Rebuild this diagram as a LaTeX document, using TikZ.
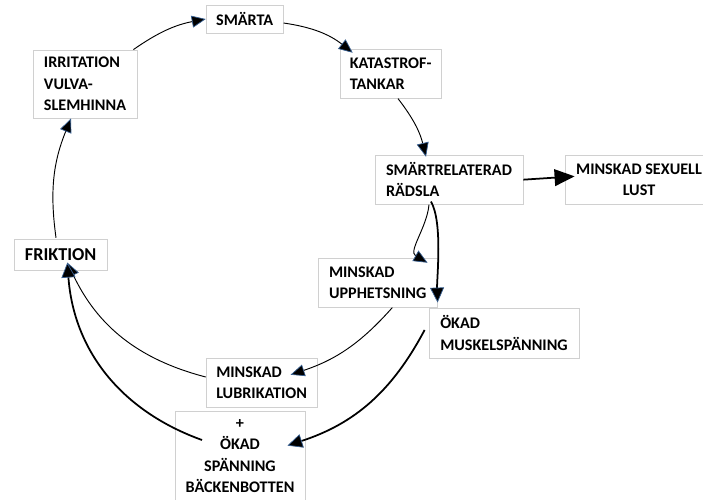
\documentclass[tikz,border=0pt]{standalone}
\usepackage{fontspec}
\setmainfont{Carlito}
\usetikzlibrary{arrows.meta}

\definecolor{boxline}{RGB}{208,208,208}
\definecolor{tipedge}{RGB}{55,95,145}

\begin{document}
\begin{tikzpicture}[every node/.style={align=left, font=\bfseries\fontsize{13.8}{18.3}\selectfont},
    box/.style={draw=boxline, line width=0.7pt, inner sep=0pt},
    link/.style={line width=0.8pt, -{Triangle[length=0.42cm, width=0.36cm, fill=black, color=tipedge, line width=0.6pt]}},
    heavy/.style={line width=1.5pt, -{Triangle[length=0.45cm, width=0.42cm, fill=black, color=tipedge, line width=0.6pt]}}]
    \useasboundingbox (0,0) rectangle (21.09,-14.97);
    % cycle boxes
    \node[box, minimum width=2.31cm, minimum height=0.84cm] (smarta) at (7.34,-0.57) {SMÄRTA};
    \node[box, minimum width=3.12cm, minimum height=2.04cm] (irr) at (2.55,-2.52) {IRRITATION\\VULVA-\\SLEMHINNA};
    \node[box, minimum width=3.03cm, minimum height=1.47cm] (kat) at (11.72,-2.21) {KATASTROF-\\TANKAR};
    \node[box, minimum width=4.44cm, minimum height=1.47cm] (radsla) at (13.47,-5.39) {SMÄRTRELATERAD\\RÄDSLA};
    \node[box, minimum width=4.44cm, minimum height=1.47cm, align=center] (lust) at (19.17,-5.39) {MINSKAD SEXUELL\\LUST};
    \node[box, minimum width=2.79cm, minimum height=0.93cm, font=\bfseries\fontsize{15.5}{18.3}\selectfont] (frik) at (1.82,-7.64) {FRIKTION};
    \node[box, minimum width=3.57cm, minimum height=1.47cm] (upph) at (11.33,-8.48) {MINSKAD\\UPPHETSNING};
    \node[box, minimum width=4.5cm, minimum height=1.5cm] (muskel) at (15.12,-9.99) {ÖKAD\\MUSKELSPÄNNING};
    \node[box, minimum width=3.33cm, minimum height=1.47cm] (lubr) at (7.85,-11.48) {MINSKAD\\LUBRIKATION};
    \node[box, minimum width=3.9cm, minimum height=2.7cm, align=center] (backen) at (7.2,-13.68)
        {+\\ÖKAD\\SPÄNNING\\BÄCKENBOTTEN};
    % outer circle
    \draw[link] ([xshift=-0.12cm]irr.north east) to[bend left=12] (smarta.west);
    \draw[link] ([yshift=-0.12cm]smarta.east) to[bend left=15] ([xshift=0.39cm,yshift=-0.12cm]kat.north west);
    \draw[link] ([xshift=0.22cm]kat.south) to[bend left=12] ([xshift=-0.69cm,yshift=-0.06cm]radsla.north);
    \draw[heavy, -{Triangle[length=0.6cm, width=0.5cm, fill=black]}] (radsla.east) -- ([xshift=0.3cm,yshift=0.1cm]lust.west);
    % inner branches
    \draw[link] ([xshift=-0.6cm]radsla.south) to[out=-95, in=150] ([xshift=-0.3cm,yshift=-0.15cm]upph.north east);
    \draw[heavy] ([xshift=-0.54cm,yshift=0.09cm]radsla.south) to[out=-60, in=92, looseness=0.6] ([xshift=0.27cm,yshift=0.15cm]muskel.north west);
    \draw[link] ([xshift=0.44cm]upph.south) to[bend left=15] ([xshift=-0.81cm,yshift=-0.51cm]lubr.north east);
    \draw[heavy] ([xshift=-0.12cm,yshift=0.09cm]muskel.west) to[bend left=22] ([xshift=-0.54cm,yshift=-1.05cm]backen.north east);
    % back to friktion
    \draw[link] ([yshift=0.17cm]lubr.west) to[bend left=25] ([xshift=0.2cm,yshift=0.24cm]frik.south);
    \draw[heavy] ([xshift=-1.14cm,yshift=0.48cm]backen.center) to[bend left=33] ([xshift=0.2cm,yshift=0.24cm]frik.south);
    \draw[link] ([xshift=-0.14cm,yshift=0.03cm]frik.north) to[bend left=15] ([xshift=-0.42cm]irr.south);
\end{tikzpicture}
\end{document}
